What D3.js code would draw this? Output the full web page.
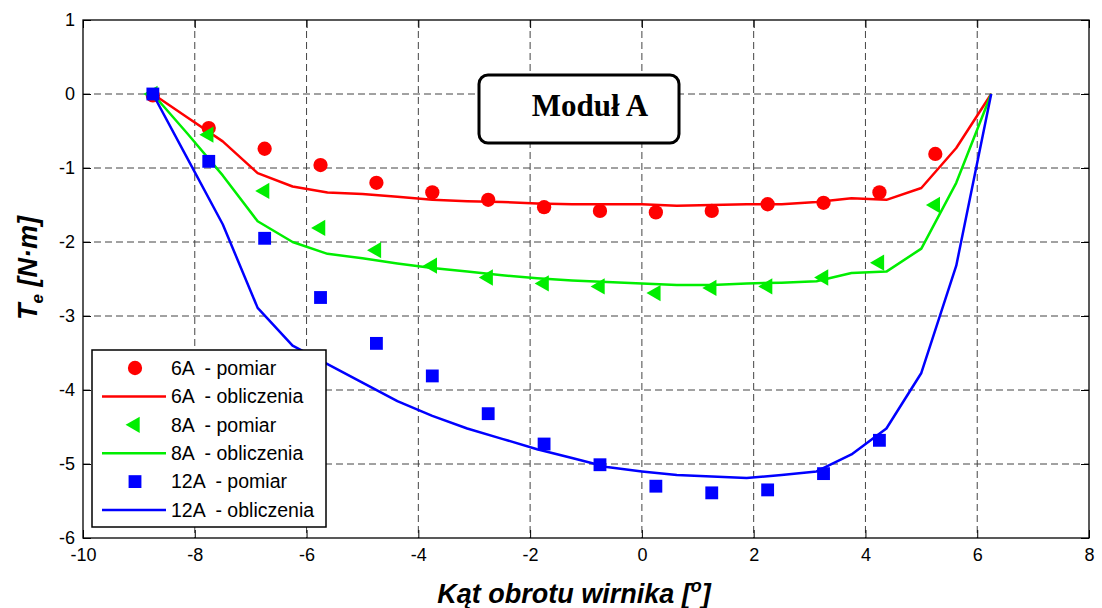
<!DOCTYPE html>
<html>
<head>
<meta charset="utf-8">
<script src="https://cdn.jsdelivr.net/npm/d3@7"></script>
<style>
  body { margin: 0; background: #fff; }
  svg text { font-family: "Liberation Sans", Arial, sans-serif; }
</style>
</head>
<body>
<svg id="chart" width="1102" height="608"></svg>
<script>
// measured angles (deg) and torques (N.m)
const anglesMeas = [-8.75, -7.75, -6.75, -5.75, -4.75, -3.75, -2.75, -1.75, -0.75, 0.25, 1.25, 2.25, 3.25, 4.25, 5.25];
const meas6A = [-0.02, -0.46, -0.74, -0.96, -1.2, -1.33, -1.43, -1.53, -1.58, -1.6, -1.58, -1.49, -1.47, -1.33, -0.81];
const meas8A = [0, -0.55, -1.31, -1.81, -2.11, -2.32, -2.48, -2.56, -2.6, -2.69, -2.62, -2.6, -2.48, -2.28, -1.5];
const meas12A = [0, -0.91, -1.95, -2.75, -3.37, -3.81, -4.32, -4.73, -5.01, -5.3, -5.39, -5.35, -5.13, -4.68, null];

// calculated curves
const anglesCalc = [-8.75, -8.125, -7.5, -6.875, -6.25, -5.625, -5, -4.375, -3.75, -3.125, -2.5, -1.875, -1.25,
  -0.625, 0, 0.625, 1.25, 1.875, 2.5, 3.125, 3.75, 4.375, 5, 5.625, 6.25];
const calc6A = [0, -0.32, -0.64, -1.07, -1.25, -1.33, -1.35, -1.39, -1.43, -1.45, -1.46, -1.48, -1.49,
  -1.49, -1.49, -1.51, -1.5, -1.49, -1.49, -1.46, -1.41, -1.43, -1.27, -0.73, 0];
const calc8A = [0, -0.54, -1.1, -1.72, -2.0, -2.16, -2.22, -2.29, -2.35, -2.4, -2.45, -2.49, -2.52,
  -2.54, -2.56, -2.58, -2.58, -2.56, -2.55, -2.53, -2.42, -2.4, -2.09, -1.2, 0];
const calc12A = [0, -0.88, -1.76, -2.89, -3.4, -3.65, -3.9, -4.15, -4.35, -4.52, -4.66, -4.8, -4.92,
  -5.04, -5.1, -5.15, -5.17, -5.19, -5.15, -5.1, -4.87, -4.52, -3.77, -2.32, 0];

const xTicks = [-10, -8, -6, -4, -2, 0, 2, 4, 6, 8];
const yTicks = [1, 0, -1, -2, -3, -4, -5, -6];

const legendLabels = ["6A  - pomiar", "6A  - obliczenia", "8A  - pomiar", "8A  - obliczenia", "12A  - pomiar", "12A  - obliczenia"];

const svg = d3.select("#chart");
const m = { left: 83, right: 1089, top: 20, bottom: 538 };

const x = d3.scaleLinear().domain([-10, 8]).range([m.left, m.right]);
const y = d3.scaleLinear().domain([-6, 1]).range([m.bottom, m.top]);

// grid
const grid = svg.append("g")
  .attr("stroke", "#444")
  .attr("stroke-width", 1)
  .attr("stroke-dasharray", "7,4");
grid.selectAll(".gx").data(xTicks.slice(1, -1)).enter().append("line")
  .attr("x1", d => x(d)).attr("x2", d => x(d))
  .attr("y1", m.top).attr("y2", m.bottom);
grid.selectAll(".gy").data(yTicks.slice(1, -1)).enter().append("line")
  .attr("x1", m.left).attr("x2", m.right)
  .attr("y1", d => y(d)).attr("y2", d => y(d));

// axes with inward ticks on all four sides
const fmt = d => String(d);
const xAxis = d3.axisBottom(x).tickValues(xTicks).tickFormat(fmt).tickSize(-8).tickPadding(10);
const yAxis = d3.axisLeft(y).tickValues(yTicks).tickFormat(fmt).tickSize(-8).tickPadding(8);

const gx = svg.append("g").attr("transform", `translate(0,${m.bottom})`).call(xAxis);
const gy = svg.append("g").attr("transform", `translate(${m.left},0)`).call(yAxis);
svg.append("g").attr("transform", `translate(0,${m.top})`)
  .call(d3.axisTop(x).tickValues(xTicks).tickFormat("").tickSize(-8));
svg.append("g").attr("transform", `translate(${m.right},0)`)
  .call(d3.axisRight(y).tickValues(yTicks).tickFormat("").tickSize(-8));

svg.selectAll(".domain").remove();
svg.selectAll(".tick line").attr("stroke", "#000");
[gx, gy].forEach(g => g.selectAll("text")
  .attr("fill", "#000")
  .style("font-size", "18px")
  .style("font-family", "'Liberation Sans', Arial, sans-serif"));

svg.append("rect")
  .attr("x", m.left).attr("y", m.top)
  .attr("width", m.right - m.left).attr("height", m.bottom - m.top)
  .attr("fill", "none").attr("stroke", "#000").attr("stroke-width", 1.3);

// series
const line = d3.line().x(d => x(d[0])).y(d => y(d[1]));
const pairs = (xs, ys) => xs.map((v, i) => [v, ys[i]]).filter(d => d[1] != null);

const symCircle = d3.symbol().type(d3.symbolCircle).size(160);
const symTri = d3.symbol().type(d3.symbolTriangle).size(115);
const symSquare = d3.symbol().type(d3.symbolSquare).size(165);

const series = [
  { meas: meas6A, calc: calc6A, color: "#ff0000", sym: symCircle, rot: 0 },
  { meas: meas8A, calc: calc8A, color: "#00ee00", sym: symTri, rot: -90 },
  { meas: meas12A, calc: calc12A, color: "#0000ff", sym: symSquare, rot: 0 }
];

const plot = svg.append("g");
series.forEach(s => {
  plot.append("g").selectAll("path")
    .data(pairs(anglesMeas, s.meas))
    .enter().append("path")
    .attr("d", s.sym())
    .attr("fill", s.color)
    .attr("transform", d => `translate(${x(d[0])},${y(d[1])}) rotate(${s.rot})`);
  plot.append("path")
    .datum(pairs(anglesCalc, s.calc))
    .attr("d", line)
    .attr("fill", "none")
    .attr("stroke", s.color)
    .attr("stroke-width", 2.5)
    .attr("stroke-linejoin", "round");
});

// legend
const lg = svg.append("g");
lg.append("rect")
  .attr("x", 92).attr("y", 350).attr("width", 234).attr("height", 177)
  .attr("fill", "#fff").attr("stroke", "#000").attr("stroke-width", 1.5);
legendLabels.forEach((lab, i) => {
  const cy = 368 + i * 28.4;
  const s = series[Math.floor(i / 2)];
  if (i % 2 === 0) {
    lg.append("path").attr("d", s.sym()).attr("fill", s.color)
      .attr("transform", `translate(135,${cy}) rotate(${s.rot})`);
  } else {
    lg.append("line").attr("x1", 102).attr("x2", 166).attr("y1", cy).attr("y2", cy)
      .attr("stroke", s.color).attr("stroke-width", 2.5);
  }
  lg.append("text").attr("x", 171).attr("y", cy).attr("dy", "0.35em")
    .style("font-size", "19.5px").style("white-space", "pre")
    .attr("fill", "#000").text(lab);
});

// annotation box
svg.append("rect")
  .attr("x", 479).attr("y", 75).attr("width", 200).attr("height", 68)
  .attr("rx", 9).attr("ry", 9)
  .attr("fill", "#fff").attr("stroke", "#000").attr("stroke-width", 3);
svg.append("text")
  .attr("x", 590).attr("y", 116).attr("text-anchor", "middle")
  .style("font-family", "'Liberation Serif', 'Times New Roman', serif")
  .style("font-weight", "bold").style("font-size", "31px")
  .text("Moduł A");

// axis titles
const xt = svg.append("text")
  .attr("x", 574).attr("y", 603).attr("text-anchor", "middle")
  .style("font-weight", "bold").style("font-style", "italic").style("font-size", "27px");
xt.append("tspan").text("Kąt obrotu wirnika [");
xt.append("tspan").attr("dy", -11).style("font-size", "18px").text("o");
xt.append("tspan").attr("dy", 11).text("]");

const yt = svg.append("text")
  .attr("transform", "translate(37,268) rotate(-90)")
  .attr("text-anchor", "middle")
  .style("font-weight", "bold").style("font-style", "italic").style("font-size", "27px");
yt.append("tspan").text("T");
yt.append("tspan").attr("dy", 6).style("font-size", "17px").text("e");
yt.append("tspan").attr("dy", -6).text(" [N·m]");
</script>
</body>
</html>
